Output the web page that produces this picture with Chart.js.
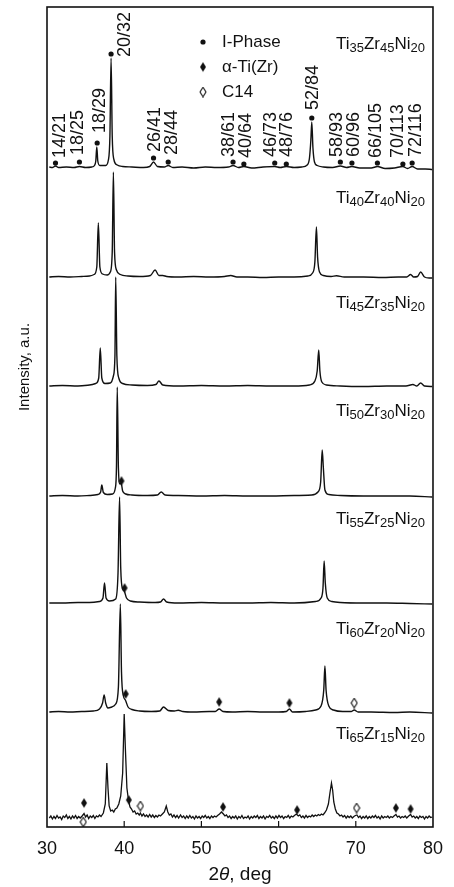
<!DOCTYPE html>
<html lang="en">
<head>
    <meta charset="UTF-8">
    <title>XRD Ti-Zr-Ni</title>
    <script src="https://cdn.jsdelivr.net/npm/chart.js"></script>
    <style>
        body { margin: 0; background: #fff; }
        .chart-box { position: relative; width: 454px; height: 887px; }
    </style>
</head>
<body>
    <div class="chart-box"><canvas id="xrdChart"></canvas></div>

    <script>
        // sample names, bottom of stack last
        const samples = ['Ti35Zr45Ni20', 'Ti40Zr40Ni20', 'Ti45Zr35Ni20', 'Ti50Zr30Ni20', 'Ti55Zr25Ni20', 'Ti60Zr20Ni20', 'Ti65Zr15Ni20'];
        // vertical shift of each pattern (a.u.)
        const offsets = [659, 550, 441, 331, 224, 115, 9];
        const xTicks = [30, 40, 50, 60, 70, 80];

        // patterns: [2theta, intensity above own baseline]
        const ti35 = [[30.3,1],[30.7,0.5],[31.1,2],[31.5,0.5],[32.5,1],[33.5,0.5],[34.2,1.5],[35,0.5],[35.8,1],[36.15,2.5],[36.32,7],[36.45,21],[36.58,7],[36.85,2.5],[37.6,2.5],[37.95,8],[38.15,32],[38.3,110],[38.45,32],[38.65,9],[39.1,3],[39.8,1.5],[41,1],[42.5,0.5],[43.3,1.5],[43.8,6],[44.3,1.5],[45.2,1],[45.7,2.5],[46.3,0.5],[47.5,1],[49,0],[50.5,1],[52,0.5],[53.5,1],[54.1,2.5],[54.8,0.5],[55.5,1.5],[56.5,0],[58,1],[59.5,1.5],[60.2,0.5],[61,1.5],[62,0.5],[63,1],[63.7,3],[64.0,10],[64.18,28],[64.3,46],[64.45,20],[64.65,6],[65,2.5],[65.8,1],[67,0.5],[68,2],[68.8,0.5],[69.5,1.5],[70.5,0],[72,0],[72.8,1.5],[73.8,-0.5],[75,0],[76.1,1.5],[76.7,-0.5],[77.3,1.5],[78,-1],[79,-1],[79.9,-1.5]];
        const ti40 = [[30.3,0],[31.5,0.5],[33,0],[34.5,0.5],[35.5,1],[36.1,2.5],[36.45,10],[36.65,54],[36.85,10],[37.2,3],[37.8,2],[38.2,5],[38.45,25],[38.6,105],[38.75,25],[39.0,7],[39.5,2.5],[40.5,1],[42,0.5],[43.4,1.5],[44.0,7],[44.5,1.5],[45,1.5],[45.5,0.5],[47,0],[49,0.5],[51,0],[53,0.5],[53.8,1.5],[54.6,0],[56,0],[58,-0.5],[60,0],[62,0],[63.8,1],[64.4,4],[64.7,15],[64.9,50],[65.05,20],[65.3,5],[65.8,1.5],[66.8,0.5],[67.5,1.2],[68.5,0],[71,0],[73.5,-0.5],[75.5,0],[76.6,0],[77.1,2.5],[77.5,0],[78,0.5],[78.4,5],[78.9,0],[79.5,-1],[79.9,-1]];
        const ti45 = [[30.3,0],[32,0.5],[34,0],[35.5,1],[36.3,2.5],[36.7,8],[36.9,38],[37.1,8],[37.5,2.5],[38.2,3],[38.6,10],[38.8,30],[38.9,109],[39.05,30],[39.3,8],[39.8,2.5],[41,1],[43,0.5],[44.1,1.5],[44.5,5],[45,1],[47,0],[50,0.5],[53,0],[56,0.5],[59,0],[62,0],[64,1],[64.7,5],[65.0,15],[65.2,36],[65.35,15],[65.6,4],[66.2,1],[68,0],[71,-0.5],[74,0],[76.5,0],[77.4,1.5],[77.9,0],[78.4,3],[78.9,0],[79.9,-0.5]];
        const ti50 = [[30.3,0],[32,0.5],[34,0],[35.5,0.5],[36.6,1.5],[36.95,4],[37.1,11],[37.3,3.5],[37.8,1.5],[38.5,2],[38.85,8],[39.0,30],[39.1,109],[39.25,28],[39.45,12],[39.6,13],[39.8,5],[40.2,2],[41,1],[43,0.5],[44.3,1],[44.8,4],[45.3,1],[47,0.5],[50,0],[53,0.5],[56,0],[59,0],[62,0.5],[64.3,1],[65.1,4],[65.45,14],[65.65,46],[65.8,28],[66.0,6],[66.5,1.5],[68,0.5],[71,0],[74,0],[77,0],[79.9,-1]];
        const ti55 = [[30.3,0],[32,0],[34,0.5],[35.5,0.5],[36.8,1.5],[37.25,5],[37.45,20],[37.65,5],[38.1,2],[38.9,4],[39.2,30],[39.4,106],[39.55,35],[39.8,14],[40.0,12],[40.3,5],[40.8,2],[42,1],[44,0.5],[44.7,1],[45.1,4],[45.5,1],[47,0],[50,0.5],[53,0],[56,0],[59,0.5],[62,0],[64.8,1.5],[65.5,5],[65.75,15],[65.9,42],[66.05,20],[66.3,5],[66.9,1.5],[68,0.5],[71,0],[74,0],[77,-0.5],[79.9,-1]];
        const ti60 = [[30.3,0],[31.5,0.5],[33,0],[34.5,0.5],[36,1],[36.8,3],[37.2,9],[37.4,17],[37.6,9],[37.9,4],[38.4,5],[38.9,8],[39.25,25],[39.5,108],[39.65,40],[39.9,16],[40.15,12],[40.5,5],[41,2.5],[42,1],[43.5,0.5],[44.6,1],[45.1,5],[45.7,1.5],[46.5,1],[47.0,1.8],[47.6,0.5],[49,0],[51,0.5],[51.8,0.5],[52.3,3],[52.8,0.5],[54,0],[56,0.5],[58,0],[60,0],[61.0,0.5],[61.4,3],[61.8,0],[63.5,0.5],[64.8,2],[65.5,6],[65.85,22],[66.0,46],[66.15,22],[66.5,6],[67.1,2],[68.3,0.5],[69.4,0.5],[69.8,2],[70.3,0],[72,0],[75,-0.5],[77,0],[79.9,-1]];
        const ti65 = [[30.3,0],[30.5,2],[30.7,-1],[30.9,1.5],[31.1,-0.5],[31.3,2.5],[31.5,0],[31.7,1],[31.9,-1.5],[32.1,2],[32.3,0.5],[32.5,3],[32.7,-0.5],[32.9,1.5],[33.1,-1],[33.3,2],[33.5,0],[33.7,2.5],[33.9,-0.5],[34.1,1.5],[34.3,0],[34.55,2],[34.8,4.5],[35.0,1],[35.2,3],[35.4,-0.5],[35.6,2],[35.8,0.5],[36.0,2.5],[36.2,-0.5],[36.4,2],[36.6,1],[36.8,3],[37.0,1.5],[37.3,5],[37.55,14],[37.75,55],[37.9,30],[38.05,12],[38.25,7],[38.45,8],[38.65,6],[38.85,9],[39.05,10],[39.3,14],[39.55,22],[39.8,45],[40.0,104],[40.15,70],[40.35,30],[40.55,18],[40.75,11],[40.95,9],[41.15,6],[41.35,7],[41.55,4],[41.75,5],[41.95,3],[42.1,5],[42.3,2],[42.5,4],[42.7,1.5],[42.9,3],[43.1,1],[43.3,3.5],[43.5,1],[43.7,3],[43.9,0.5],[44.1,2.5],[44.3,1],[44.5,3],[44.7,2],[44.95,4],[45.2,6],[45.45,12],[45.65,6],[45.85,3],[46.05,4],[46.25,1],[46.45,3],[46.65,0.5],[46.85,2.5],[47.05,0],[47.3,3],[47.5,0.5],[47.7,2],[47.9,-0.5],[48.1,2],[48.3,0],[48.5,2.5],[48.7,0],[48.9,1.5],[49.1,-1],[49.3,2],[49.5,0],[49.7,1.5],[49.9,-0.5],[50.1,2],[50.3,0.5],[50.5,2.5],[50.7,0],[50.9,1.5],[51.1,-0.5],[51.3,2],[51.5,0.5],[51.7,2],[51.9,1],[52.1,2.5],[52.35,4],[52.6,6],[52.85,4],[53.05,2],[53.25,3],[53.45,0.5],[53.65,2],[53.85,-0.5],[54.05,1.5],[54.25,0],[54.45,2],[54.65,-1],[54.85,1.5],[55.05,0],[55.25,2.5],[55.45,-0.5],[55.65,1],[55.85,0],[56.05,2],[56.25,-1],[56.45,1.5],[56.65,0],[56.85,2],[57.05,0.5],[57.25,2.5],[57.45,-0.5],[57.65,1.5],[57.85,0],[58.05,2],[58.25,-1],[58.45,1.5],[58.65,0.5],[58.85,2.5],[59.05,0],[59.25,1.5],[59.45,-0.5],[59.65,2],[59.85,0],[60.05,2.5],[60.25,0.5],[60.45,2],[60.65,-0.5],[60.85,1.5],[61.05,0.5],[61.25,2.5],[61.45,0],[61.65,2],[61.85,1],[62.05,2.5],[62.3,4],[62.55,2],[62.75,3],[62.95,0.5],[63.15,2],[63.35,0],[63.55,2.5],[63.75,0.5],[63.95,2],[64.15,1],[64.35,3],[64.55,1.5],[64.75,3],[64.95,2],[65.15,3.5],[65.35,2.5],[65.55,4],[65.75,3],[65.95,5],[66.2,8],[66.45,14],[66.65,25],[66.85,35],[67.0,28],[67.15,16],[67.35,9],[67.55,5],[67.75,4],[67.95,2],[68.15,3],[68.35,1],[68.55,2.5],[68.75,0],[68.95,2],[69.15,0.5],[69.35,2],[69.55,0],[69.75,1.5],[69.95,2.5],[70.15,3],[70.35,0.5],[70.55,2],[70.75,-0.5],[70.95,1.5],[71.15,0],[71.35,2],[71.55,-0.5],[71.75,1.5],[71.95,0],[72.15,2],[72.35,0.5],[72.55,2.5],[72.75,0],[72.95,1.5],[73.15,-1],[73.35,2],[73.55,0],[73.75,1.5],[73.95,0.5],[74.15,2],[74.35,0],[74.55,1.5],[74.75,0.5],[74.95,2],[75.2,3.5],[75.4,1],[75.6,2],[75.8,0],[76.0,1.5],[76.2,0.5],[76.4,2],[76.6,0],[76.85,2],[77.1,3.5],[77.3,1],[77.5,2],[77.7,0],[77.9,1.5],[78.1,-0.5],[78.3,2],[78.5,0.5],[78.7,1.5],[78.9,-1],[79.1,1.5],[79.3,0],[79.5,2],[79.7,0.5],[79.9,1]];
        const patterns = [ti35, ti40, ti45, ti50, ti55, ti60, ti65];

        // I-phase reflections indexed on the top pattern
        const hklLabels = ['14/21', '18/25', '18/29', '20/32', '26/41', '28/44', '38/61', '40/64', '46/73', '48/76', '52/84', '58/93', '60/96', '66/105', '70/113', '72/116'];
        const hklPos = [31.1, 34.2, 36.5, 38.3, 43.8, 45.7, 54.1, 55.5, 59.5, 61.0, 64.3, 68.0, 69.5, 72.8, 76.1, 77.3];
        const hklHeight = [5, 6, 25, 114, 10, 6, 6, 4, 5, 4, 50, 6, 5, 5, 4, 5];

        // phase markers on lower patterns: [pattern index, 2theta, height above baseline]
        const alphaTi = [[3, 39.65, 15], [4, 40.05, 15], [5, 40.2, 18], [5, 52.3, 10], [5, 61.4, 9], [6, 34.8, 15], [6, 40.6, 18], [6, 52.8, 11], [6, 62.4, 8], [6, 75.2, 10], [6, 77.1, 9]];
        const c14 = [[5, 69.8, 9], [6, 42.1, 12], [6, 70.1, 10], [6, 34.7, -4]];

        const ink = '#111';
        const fam = "'Liberation Sans', Arial, sans-serif";
        Chart.defaults.font.family = fam;
        Chart.defaults.color = ink;

        // narrow diamond markers as in the print
        function diamond(filled) {
            const c = document.createElement('canvas');
            c.width = 8; c.height = 11;
            const g = c.getContext('2d');
            g.beginPath();
            g.moveTo(4, 0.8); g.lineTo(7, 5.5); g.lineTo(4, 10.2); g.lineTo(1, 5.5); g.closePath();
            if (filled) { g.fillStyle = ink; g.fill(); }
            else { g.fillStyle = '#fff'; g.fill(); g.strokeStyle = ink; g.lineWidth = 1.1; g.stroke(); }
            return c;
        }
        const fullDiamond = diamond(true);
        const openDiamond = diamond(false);

        const datasets = patterns.map((p, i) => ({
            type: 'line',
            data: p.map(([x, v]) => ({ x: x, y: v + offsets[i] })),
            borderColor: ink,
            borderWidth: i === 6 ? 1.3 : 1.4,
            pointRadius: 0,
            cubicInterpolationMode: i === 6 ? 'default' : 'monotone',
            tension: 0,
            fill: false
        }));
        datasets.push({
            type: 'scatter',
            data: hklPos.map((x, k) => ({ x: x, y: hklHeight[k] + offsets[0] })),
            pointStyle: 'circle', pointRadius: 2.6, backgroundColor: ink, borderWidth: 0
        });
        datasets.push({
            type: 'scatter',
            data: alphaTi.map(([i, x, h]) => ({ x: x, y: h + offsets[i] })),
            pointStyle: fullDiamond, pointRadius: 5
        });
        datasets.push({
            type: 'scatter',
            data: c14.map(([i, x, h]) => ({ x: x, y: h + offsets[i] })),
            pointStyle: openDiamond, pointRadius: 5
        });

        // label lift above baseline for the sample names
        const nameLift = [125, 80, 84, 86, 85, 84, 85];
        // pixel nudges [dx, dy] of the rotated hkl labels from their dots
        const hklNudge = [[5, -5], [-1, -7], [3, -10], [14, 3], [1, -6], [4, -7], [-4, -5], [2, -6], [-4, -6], [1, -7], [1, -8], [-3, -5], [2, -6], [-1, -5], [-5, -6], [4, -6]];

        function drawFormula(ctx, name, right, yy) {
            const parts = [...name.matchAll(/([A-Z][a-z]?)(\d+)/g)];
            let w = 0;
            parts.forEach(m => {
                ctx.font = '17px ' + fam; w += ctx.measureText(m[1]).width;
                ctx.font = '13px ' + fam; w += ctx.measureText(m[2]).width;
            });
            let cx = right - w;
            ctx.textAlign = 'left';
            ctx.textBaseline = 'alphabetic';
            parts.forEach(m => {
                ctx.font = '17px ' + fam; ctx.fillText(m[1], cx, yy + 6); cx += ctx.measureText(m[1]).width;
                ctx.font = '13px ' + fam; ctx.fillText(m[2], cx, yy + 9); cx += ctx.measureText(m[2]).width;
            });
        }

        const decor = {
            id: 'decor',
            afterDraw(chart) {
                const { ctx, chartArea: a, scales: { x, y } } = chart;
                ctx.save();
                ctx.fillStyle = ink;
                ctx.strokeStyle = ink;

                // frame and inward ticks
                ctx.lineWidth = 1.6;
                ctx.strokeRect(a.left, a.top, a.right - a.left, a.bottom - a.top);
                ctx.lineWidth = 1.2;
                xTicks.slice(1, -1).forEach(v => {
                    const px = x.getPixelForValue(v);
                    ctx.beginPath(); ctx.moveTo(px, a.bottom); ctx.lineTo(px, a.bottom - 6); ctx.stroke();
                });

                // sample names
                samples.forEach((s, i) => drawFormula(ctx, s, 425, y.getPixelForValue(offsets[i] + nameLift[i])));

                // hkl labels on top pattern, rotated
                ctx.font = '18px ' + fam;
                ctx.textAlign = 'left';
                ctx.textBaseline = 'middle';
                hklLabels.forEach((t, k) => {
                    const px = x.getPixelForValue(hklPos[k]) + hklNudge[k][0];
                    const py = y.getPixelForValue(hklHeight[k] + offsets[0]) + hklNudge[k][1];
                    ctx.save(); ctx.translate(px, py); ctx.rotate(-Math.PI / 2);
                    ctx.fillText(t, 0, 0);
                    ctx.restore();
                });

                // legend
                const lx = 203, ly = [42, 67, 92];
                ctx.beginPath(); ctx.arc(lx, ly[0], 2.6, 0, Math.PI * 2); ctx.fill();
                ctx.drawImage(fullDiamond, lx - 4, ly[1] - 5.5);
                ctx.drawImage(openDiamond, lx - 4, ly[2] - 5.5);
                ctx.font = '17px ' + fam;
                ctx.fillText('I-Phase', 222, ly[0]);
                ctx.fillText('\u03b1-Ti(Zr)', 222, ly[1]);
                ctx.fillText('C14', 222, ly[2]);

                // axis titles
                ctx.font = '19px ' + fam;
                const p1 = '2', p3 = ', deg';
                const w1 = ctx.measureText(p1).width, w3 = ctx.measureText(p3).width;
                ctx.font = 'italic 19px ' + fam;
                const w2 = ctx.measureText('\u03b8').width;
                let tx = (a.left + a.right) / 2 - (w1 + w2 + w3) / 2;
                ctx.textBaseline = 'middle';
                ctx.font = '19px ' + fam; ctx.fillText(p1, tx, 875); tx += w1;
                ctx.font = 'italic 19px ' + fam; ctx.fillText('\u03b8', tx, 875); tx += w2;
                ctx.font = '19px ' + fam; ctx.fillText(p3, tx, 875);

                ctx.save();
                ctx.translate(25, 367); ctx.rotate(-Math.PI / 2);
                ctx.font = '15px ' + fam; ctx.textAlign = 'center';
                ctx.fillText('Intensity, a.u.', 0, 0);
                ctx.restore();

                ctx.restore();
            }
        };

        const ctx = document.getElementById('xrdChart').getContext('2d');
        const xrdChart = new Chart(ctx, {
            data: { datasets: datasets },
            plugins: [decor],
            options: {
                responsive: true,
                maintainAspectRatio: false,
                animation: false,
                layout: { padding: { left: 47, right: 12, top: 7, bottom: 0 } },
                plugins: { legend: { display: false }, tooltip: { enabled: false } },
                scales: {
                    x: {
                        type: 'linear', min: 30, max: 80,
                        afterBuildTicks: axis => { axis.ticks = xTicks.map(v => ({ value: v })); },
                        afterFit: axis => { axis.height = 60; },
                        grid: { display: false, drawTicks: false },
                        border: { display: false },
                        ticks: { font: { size: 18 }, padding: 11, color: ink, maxRotation: 0 }
                    },
                    y: {
                        display: false, min: 0, max: 820
                    }
                }
            }
        });
    </script>
</body>
</html>
